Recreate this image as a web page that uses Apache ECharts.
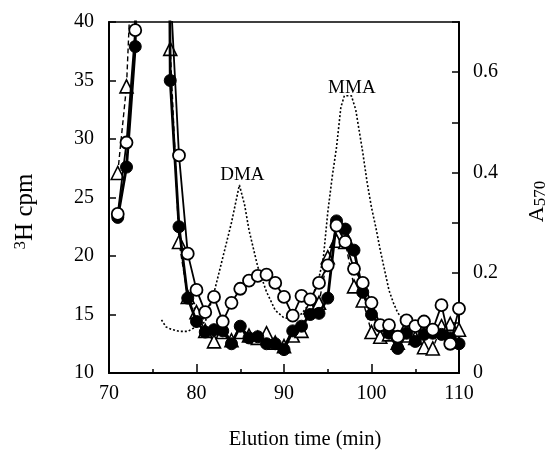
<!DOCTYPE html>
<html>
<head>
<meta charset="utf-8">
<script src="https://cdn.jsdelivr.net/npm/echarts@6/dist/echarts.min.js"></script>
<style>
html,body{margin:0;padding:0;background:#fff;}
#c{width:557px;height:458px;}
</style>
</head>
<body>
<div id="c"></div>
<script>
// Elution time (min) for the 3H fractions
const timeMin = [71,72,73,74,75,76,77,78,79,80,81,82,83,84,85,86,87,88,89,90,91,92,93,94,95,96,97,98,99,100,101,102,103,104,105,106,107,108,109,110];
// filled circles (3H cpm)
const filledCpm = [23.3,27.6,37.9,120,200,160,35.0,22.5,16.4,14.4,13.5,13.7,13.6,12.5,14.0,13.0,13.1,12.5,12.5,12.0,13.6,14.0,15.0,15.1,16.4,23.0,22.3,20.5,16.9,15.0,14.0,13.4,12.1,13.4,12.7,13.3,13.4,13.3,13.0,12.5];
// open circles (3H cpm)
const openCpm = [23.6,29.7,39.3,130,210,170,43,28.6,20.2,17.1,15.2,16.5,14.4,16.0,17.2,17.9,18.3,18.4,17.7,16.5,14.9,16.6,16.3,17.7,19.2,22.6,21.2,18.9,17.7,16.0,14.1,14.1,13.1,14.5,14.0,14.4,13.7,15.8,12.5,15.5];
// open triangles (3H cpm)
const triangleCpm = [27.1,34.5,52,140,200,150,37.7,21.2,16.5,15.2,13.6,12.7,13.5,12.8,13.5,13.2,13.0,13.4,12.6,12.3,13.2,13.6,15.6,16.0,19.9,21.3,21.2,17.4,16.2,13.5,13.1,13.3,12.6,13.2,13.0,12.2,12.1,14.0,14.2,13.7];
// A570 trace
const a570Time = [76.0,76.5,77,78,79,79.5,80,81,82,83,84,84.9,85.5,86,87,88,89,90,91,92,93,94,94.5,95,95.5,96,96.5,96.9,97.7,98.2,99,99.5,100,100.5,101,101.5,102,102.5,103,103.5,104.5];
const a570Values = [0.106,0.092,0.088,0.083,0.083,0.088,0.092,0.102,0.160,0.230,0.300,0.375,0.335,0.285,0.212,0.162,0.125,0.110,0.108,0.118,0.140,0.190,0.230,0.320,0.390,0.450,0.530,0.553,0.553,0.525,0.440,0.380,0.330,0.290,0.245,0.205,0.165,0.140,0.120,0.110,0.108];
// peak labels
const peakLabels = [{name:'DMA', t:84.9, a:0.375}, {name:'MMA', t:97.3, a:0.553}];
const xTicks = [70,80,90,100,110];
const leftTicks = [10,15,20,25,30,35,40];
const rightTicks = [0,0.2,0.4,0.6];

const FONT = 'Liberation Serif';
const pair = (xs, ys) => xs.map((x,i)=>[x, ys[i]]);

const chart = echarts.init(document.getElementById('c'), null, {renderer:'canvas'});
const tickText = {color:'#000', fontFamily:FONT, fontSize:20};

chart.setOption({
  animation:false,
  backgroundColor:'#fff',
  grid:{left:109, right:96, top:22, bottom:85, show:true, borderColor:'#000', borderWidth:1.5, backgroundColor:'transparent'},
  xAxis:{
    type:'value', min:70, max:110, interval:10,
    name:'Elution time (min)', nameLocation:'middle', nameGap:56,
    nameTextStyle:{color:'#000', fontFamily:FONT, fontSize:20.5, padding:[0,0,0,42]},
    axisLine:{show:true, lineStyle:{color:'#000', width:2}},
    axisTick:{show:true, inside:true, length:9, lineStyle:{color:'#000', width:1.5}},
    minorTick:{show:true, splitNumber:2, length:4, lineStyle:{color:'#000', width:1.5}},
    axisLabel:Object.assign({margin:11, formatter:v=>xTicks.includes(v)?String(v):''}, tickText),
    splitLine:{show:false}
  },
  yAxis:[{
    type:'value', min:10, max:40, interval:5, position:'left',
    name:'{sup|3}{n|H cpm}', nameLocation:'middle', nameGap:70, nameRotate:90,
    nameTextStyle:{color:'#000', fontFamily:FONT, fontSize:25, padding:[0,28,0,0], rich:{
      sup:{fontFamily:FONT, fontSize:17, color:'#000', verticalAlign:'top', padding:[0,0,10,0]},
      n:{fontFamily:FONT, fontSize:25, color:'#000'}
    }},
    axisLine:{show:true, lineStyle:{color:'#000', width:2}},
    axisTick:{show:true, inside:true, length:7, lineStyle:{color:'#000', width:1.5}},
    axisLabel:Object.assign({margin:15, formatter:v=>leftTicks.includes(v)?String(v):''}, tickText),
    splitLine:{show:false}
  },{
    type:'value', min:0, max:0.7, interval:0.1, position:'right',
    name:'{a|A}{s|570}', nameLocation:'middle', nameGap:66, nameRotate:90,
    nameTextStyle:{color:'#000', fontFamily:FONT, fontSize:22, padding:[0,8,0,0], rich:{
      a:{fontFamily:FONT, fontSize:22, color:'#000'},
      s:{fontFamily:FONT, fontSize:17, color:'#000', padding:[7,0,0,0]}
    }},
    axisLine:{show:true, lineStyle:{color:'#000', width:2}},
    axisTick:{show:true, inside:true, length:7, lineStyle:{color:'#000', width:1.5}},
    axisLabel:Object.assign({margin:14, formatter:v=>{const r=Math.round(v*10)/10; return rightTicks.some(t=>Math.abs(t-r)<1e-9)?String(r):'';}}, tickText),
    splitLine:{show:false}
  }],
  series:[
    {
      type:'line', name:'A570', yAxisIndex:1, data:pair(a570Time,a570Values),
      showSymbol:false, symbol:'none', z:1,
      lineStyle:{color:'#000', width:1.6, type:[2,2]},
      markPoint:{
        symbol:'circle', symbolSize:0,
        label:{show:true, position:'inside', color:'#000', fontFamily:FONT, fontSize:19, formatter:p=>p.name},
        data:peakLabels.map((p,i)=>({name:p.name, coord:[p.t,p.a], value:p.a,
          label:{offset: i===0 ? [3,-10] : [4,-8]}}))
      }
    },
    {
      type:'line', name:'triangle', data:pair(timeMin,triangleCpm), z:2,
      symbol:'triangle', symbolSize:13, showAllSymbol:true, clip:true,
      itemStyle:{color:'#fff', borderColor:'#000', borderWidth:1.6},
      lineStyle:{color:'#000', width:1.4, type:[5,3]}
    },
    {
      type:'line', name:'filled', data:pair(timeMin,filledCpm), z:3,
      symbol:'circle', symbolSize:12, showAllSymbol:true, clip:true,
      itemStyle:{color:'#000', borderColor:'#000', borderWidth:1},
      lineStyle:{color:'#000', width:2.8}
    },
    {
      type:'line', name:'open', data:pair(timeMin,openCpm), z:4,
      symbol:'circle', symbolSize:12, showAllSymbol:true, clip:true,
      itemStyle:{color:'#fff', borderColor:'#000', borderWidth:1.8},
      lineStyle:{color:'#000', width:1.8}
    }
  ]
});
</script>
</body>
</html>
